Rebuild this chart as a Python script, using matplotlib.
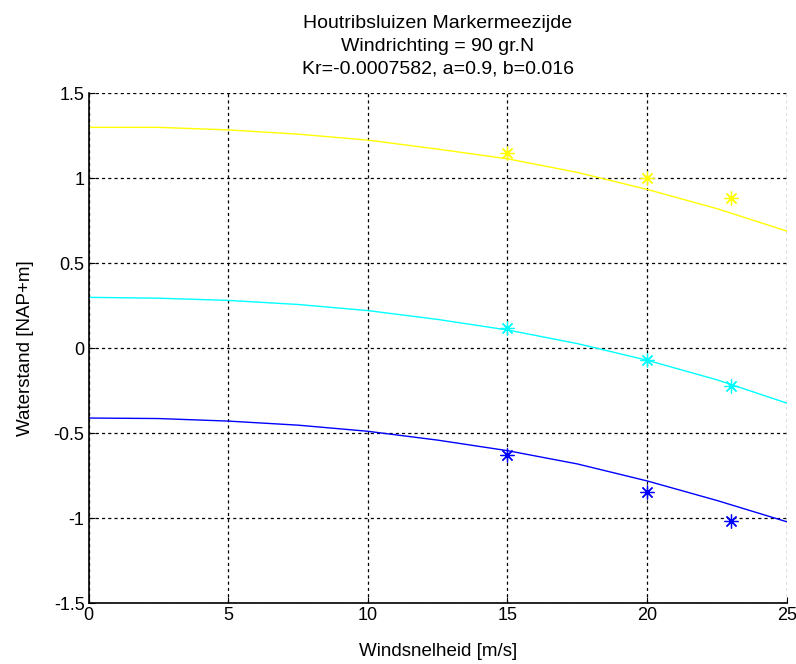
import matplotlib
matplotlib.use('Agg')
import matplotlib.pyplot as plt

plt.rcParams['font.family'] = ['Liberation Sans', 'DejaVu Sans']

# fitted curves (read at 2.5 m/s steps)
wind = [0, 2.5, 5, 7.5, 10, 12.5, 15, 17.5, 20, 22.5, 25]
curve_yellow = [1.30, 1.30, 1.285, 1.26, 1.225, 1.172, 1.115, 1.035, 0.935, 0.822, 0.69]
curve_cyan = [0.30, 0.295, 0.282, 0.258, 0.222, 0.17, 0.108, 0.028, -0.07, -0.185, -0.322]
curve_blue = [-0.41, -0.413, -0.428, -0.452, -0.488, -0.54, -0.602, -0.68, -0.78, -0.895, -1.02]

# measured points
meas_wind = [15, 20, 23]
meas_yellow = [1.15, 1.0, 0.886]
meas_cyan = [0.118, -0.069, -0.22]
meas_blue = [-0.625, -0.845, -1.016]

fig = plt.figure(figsize=(7.96, 6.64), dpi=100)
ax = fig.add_axes([0.1114, 0.0914, 0.8769, 0.768])

series = [
    (curve_yellow, meas_yellow, (1, 1, 0)),
    (curve_cyan, meas_cyan, (0, 1, 1)),
    (curve_blue, meas_blue, (0, 0, 1)),
]
for curve, meas, col in series:
    ax.plot(wind, curve, color=col, lw=1.0)
    # matlab style asterisk
    ax.plot(meas_wind, meas, linestyle='none', marker=(8, 2, 0), color=col,
            markersize=10, markeredgewidth=0.9)

ax.set_xlim(0, 25)
ax.set_ylim(-1.5, 1.5)
ax.set_xticks([0, 5, 10, 15, 20, 25])
ax.set_yticks([-1.5, -1, -0.5, 0, 0.5, 1, 1.5])
ax.set_yticklabels(['-1.5', '-1', '-0.5', '0', '0.5', '1', '1.5'])

ax.grid(True, color='black', linestyle=(0, (2.5, 2.5)), linewidth=0.9)
ax.tick_params(direction='in', labelsize=13, length=4, colors='black', pad=3)
for side in ['top', 'right']:
    ax.spines[side].set_visible(False)
for side in ['left', 'bottom']:
    ax.spines[side].set_linewidth(1.2)

ax.set_xlabel('Windsnelheid [m/s]', fontsize=13.5, labelpad=13)
ax.set_ylabel('Waterstand [NAP+m]', fontsize=13.5, labelpad=14)
ax.set_title('Houtribsluizen Markermeezijde\nWindrichting = 90 gr.N\nKr=-0.0007582, a=0.9, b=0.016',
             fontsize=14, linespacing=1.45, pad=14)

fig.savefig('out.png', dpi=100)
